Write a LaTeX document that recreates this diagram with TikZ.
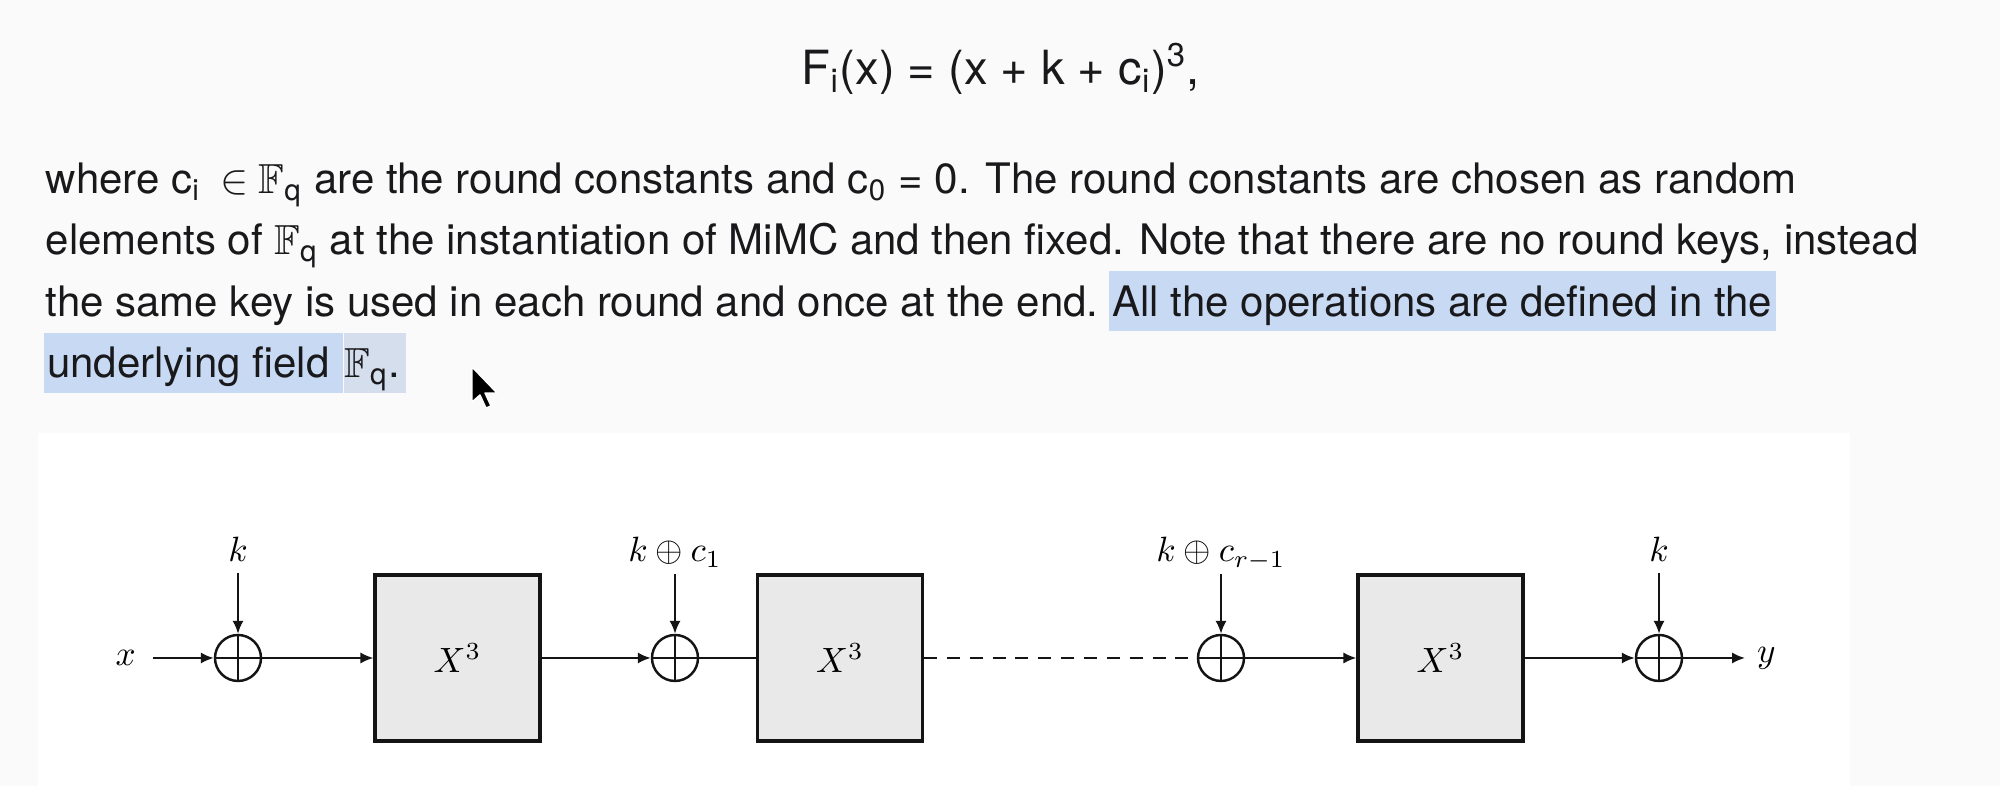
\documentclass[tikz,border=0pt]{standalone}
\usepackage{amsmath,amssymb}
\usepackage{fontspec}
\usepackage{tikz}
\usetikzlibrary{arrows.meta,positioning}
\newfontfamily\docfont{TeX Gyre Heros}
\definecolor{figline}{RGB}{20,20,20}
\definecolor{figbox}{RGB}{233,233,233}
\definecolor{figtext}{RGB}{25,25,28}
\definecolor{fighl}{RGB}{199,217,243}
\definecolor{fighlb}{RGB}{213,222,237}
\definecolor{figpage}{RGB}{250,250,250}
\tikzset{
  ln/.style   ={draw=figline, line width=0.6pt},
  ptr/.style  ={draw=figline, line width=0.6pt, -{Latex[length=3.7pt,width=3.2pt]}},
  rnd/.style  ={draw=figline, line width=0.9pt, fill=figbox, minimum width=1.65cm, minimum height=1.66cm, inner sep=0pt},
  xor/.style  ={circle, draw=figline, line width=0.7pt, minimum size=0.46cm, inner sep=0pt,
    path picture={\draw[line width=0.7pt] (path picture bounding box.north) -- (path picture bounding box.south)
      (path picture bounding box.west) -- (path picture bounding box.east);}},
  lab/.style  ={font=\fontsize{10.2}{12}\selectfont, inner sep=1pt},
  txt/.style  ={font=\docfont\fontsize{11.95}{14}\selectfont, text=figtext, inner sep=0pt, anchor=base west},
  hl/.style   ={txt, fill=fighl, inner xsep=1pt, text height=0.45cm, text depth=0.15cm},
}
\begin{document}
\begin{tikzpicture}
  \useasboundingbox (0,0) rectangle (20,7.86);
  \fill[figpage] (0,0) rectangle (20,7.86);
  \fill[white] (0.38,0) rectangle (18.5,3.53);
  % formula and paragraph
  \node[txt, font=\docfont\fontsize{13.4}{15}\selectfont, anchor=base] (eq) at (10.01,7.01)
    {F$_{\text{i}}$(x) = (x + k + c$_{\text{i}}$)$^{\text{3}}$,};
  \node[txt] (l1) at (0.45,5.92) {where c$_{\text{i}}$\kern0.2cm$\in$\kern0.1cm $\mathbb{F}_{\text{q}}$ are the round constants and c$_{\text{0}}$ = {\large 0}. The round constants are chosen as random};
  \node[txt] (l2) at (0.45,5.31) {elements of $\mathbb{F}_{\text{q}}$ at the instantiation of MiMC and then fixed. Note that there are no round keys, instead};
  \node[txt] (l3) at (0.45,4.695) {the same key is used in each round and once at the end.};
  \node[hl, xshift=0.09cm] (l3h) at (l3.base east) {All the operations are defined in the};
  \node[hl] (l4) at (0.43,4.08) {underlying field\kern0.1cm};
  \node[hl, fill=fighlb, inner xsep=0pt] (l4f) at (l4.base east) {$\mathbb{F}_{\text{q}}$.\kern0.06cm};
  % pointer
  \draw[fill=black, draw=white, line width=0.4pt, line join=round] (4.72,4.19) -- ++(0,-0.35) -- ++(0.08,0.07)
    -- ++(0.06,-0.13) -- ++(0.05,0.02) -- ++(-0.06,0.13) -- ++(0.12,0) -- cycle;
  % rounds
  \node[xor] (add1) at (2.38,1.28) {};
  \node[rnd] (rnd1) at (4.575,1.28) {$X^3$};
  \node[xor] (add2) at (6.75,1.28) {};
  \node[rnd] (rnd2) at (8.40,1.28) {$X^3$};
  \node[xor] (add3) at (12.21,1.28) {};
  \node[rnd] (rnd3) at (14.405,1.28) {$X^3$};
  \node[xor] (add4) at (16.59,1.28) {};
  \node[lab, anchor=base] (k1) at (2.38,2.24) {$k$};
  \node[lab, anchor=base] (k2) at (6.75,2.24) {$k \oplus c_1$};
  \node[lab, anchor=base] (k3) at (12.21,2.24) {$k \oplus c_{r-1}$};
  \node[lab, anchor=base] (k4) at (16.59,2.24) {$k$};
  \coordinate (xs) at (1.53,1.28);
  \coordinate (ye) at (17.45,1.28);
  \node[lab, left=0.13cm of xs] (xin) {$x$};
  \node[lab, right=0.08cm of ye] (yout) {$y$};
  \draw[ptr] ([yshift=-0.11cm]k1.base) -- (add1);
  \draw[ptr] ([yshift=-0.12cm]k2.base) -- (add2);
  \draw[ptr] ([yshift=-0.12cm]k3.base) -- (add3);
  \draw[ptr] ([yshift=-0.11cm]k4.base) -- (add4);
  \draw[ptr] (xs) -- (add1);
  \draw[ptr] (add1) -- (rnd1);
  \draw[ptr] (rnd1) -- (add2);
  \draw[ln] (add2) -- (rnd2);
  \draw[ln, dash pattern=on 3.7pt off 2.8pt] (rnd2) -- (add3);
  \draw[ptr] (add3) -- (rnd3);
  \draw[ptr] (rnd3) -- (add4);
  \draw[ptr] (add4) -- (ye);
\end{tikzpicture}
\end{document}
